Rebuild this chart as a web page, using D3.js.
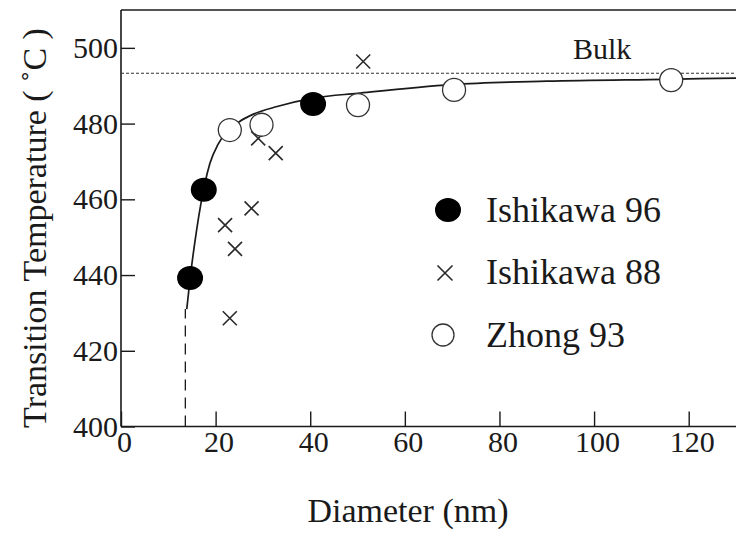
<!DOCTYPE html>
<html>
<head>
<meta charset="utf-8">
<script src="https://cdn.jsdelivr.net/npm/d3@7"></script>
<style>
  html, body { margin: 0; padding: 0; background: #fff; }
  svg { display: block; }
</style>
</head>
<body>
<svg id="chart" width="736" height="536"></svg>
<script>
// Ferroelectric transition temperature vs particle diameter
const ishikawa96D = [14.6, 17.5, 40.6];
const ishikawa96T = [439.2, 462.5, 485.2];

const ishikawa88D = [22.0, 24.1, 23.0, 27.6, 29.0, 32.7, 51.2];
const ishikawa88T = [453.2, 446.9, 428.6, 457.6, 476.1, 472.2, 496.4];

const zhong93D = [23.0, 29.7, 50.1, 70.4, 116.3];
const zhong93T = [478.3, 479.7, 484.9, 488.9, 491.5];

// fitted size-effect curve, sampled
const fitD = [13.9, 14.6, 16.0, 17.7, 18.8, 20.5, 22.5, 25.0, 28.0, 33.0, 41.0, 50.0, 70.0, 90.0, 115.0, 130.0];
const fitT = [431.0, 439.0, 452.0, 464.0, 469.5, 474.5, 478.0, 480.5, 482.5, 484.5, 486.8, 488.0, 490.3, 491.2, 491.7, 492.0];

// critical diameter marker
const criticalD = 13.6;
const criticalT = 431.0;

const bulkT = 493.3;
const bulkLabel = "Bulk";

const xTicks = [0, 20, 40, 60, 80, 100, 120];
const yTicks = [400, 420, 440, 460, 480, 500];

const xTitle = "Diameter (nm)";
const yTitle = "Transition Temperature ( ˚C )";

const legendNames = ["Ishikawa 96", "Ishikawa 88", "Zhong 93"];

const FONT = "'Liberation Serif', 'Times New Roman', Times, serif";
const ink = "#1a1a1a";

const svg = d3.select("#chart");

const x = d3.scaleLinear().domain([0, 130]).range([121, 736]);
const y = d3.scaleLinear().domain([400, 510]).range([426.5, 10]);

// frame: left axis, bottom axis, top border
svg.append("line").attr("x1", x(0)).attr("x2", x(0)).attr("y1", y(510)).attr("y2", y(400))
  .attr("stroke", ink).attr("stroke-width", 1.6);
svg.append("line").attr("x1", x(0)).attr("x2", x(130)).attr("y1", y(400)).attr("y2", y(400))
  .attr("stroke", ink).attr("stroke-width", 1.6);
svg.append("line").attr("x1", x(0)).attr("x2", x(130)).attr("y1", y(510)).attr("y2", y(510))
  .attr("stroke", ink).attr("stroke-width", 1.6);

// axes with inward ticks
const xAxis = d3.axisBottom(x).tickValues(xTicks).tickFormat(d3.format("d"))
  .tickSizeInner(-15).tickSizeOuter(0).tickPadding(4);
const gx = svg.append("g").attr("transform", `translate(0,${y(400)})`).call(xAxis)
  .attr("font-family", FONT);
gx.select(".domain").remove();
gx.selectAll(".tick line").attr("stroke", ink).attr("stroke-width", 1.4);
gx.selectAll(".tick text").attr("font-size", 30).attr("dx", 3).attr("dy", "0.72em")
  .attr("font-family", FONT).attr("fill", ink);

const yAxis = d3.axisLeft(y).tickValues(yTicks).tickFormat(d3.format("d"))
  .tickSizeInner(-14).tickSizeOuter(0).tickPadding(3);
const gy = svg.append("g").attr("transform", `translate(${x(0)},0)`).call(yAxis)
  .attr("font-family", FONT);
gy.select(".domain").remove();
gy.selectAll(".tick line").attr("stroke", ink).attr("stroke-width", 1.4);
gy.selectAll(".tick text").attr("font-size", 30).attr("font-family", FONT).attr("fill", ink);

// axis titles
svg.append("text").attr("x", 408).attr("y", 522).attr("text-anchor", "middle")
  .attr("font-family", FONT).attr("fill", ink).attr("font-size", 34).text(xTitle);
svg.append("text").attr("transform", `translate(46,${228}) rotate(-90)`)
  .attr("text-anchor", "middle").attr("font-family", FONT).attr("fill", ink)
  .attr("font-size", 34).text(yTitle);

// bulk reference line
svg.append("line").attr("x1", x(0)).attr("x2", x(130)).attr("y1", y(bulkT)).attr("y2", y(bulkT))
  .attr("stroke", "#333").attr("stroke-width", 1.2).attr("stroke-dasharray", "3,2");
svg.append("text").attr("x", 573).attr("y", 59).attr("font-family", FONT).attr("fill", ink)
  .attr("font-size", 30).text(bulkLabel);

// critical-size dashed drop line
svg.append("line").attr("x1", x(criticalD)).attr("x2", x(criticalD))
  .attr("y1", y(400)).attr("y2", y(criticalT))
  .attr("stroke", ink).attr("stroke-width", 1.3).attr("stroke-dasharray", "11,7");

// fitted curve
const fitPts = fitD.map((d, i) => [d, fitT[i]]);
svg.append("path").datum(fitPts)
  .attr("d", d3.line().x(d => x(d[0])).y(d => y(d[1])).curve(d3.curveMonotoneX))
  .attr("fill", "none").attr("stroke", ink).attr("stroke-width", 1.7);

// Ishikawa 88: crosses
const crossPath = (cx, cy, h) => `M${cx - h},${cy - h}L${cx + h},${cy + h}M${cx - h},${cy + h}L${cx + h},${cy - h}`;
svg.append("g").selectAll("path").data(ishikawa88D.map((d, i) => [d, ishikawa88T[i]]))
  .join("path")
  .attr("d", d => crossPath(x(d[0]), y(d[1]), 7))
  .attr("stroke", "#2a2a2a").attr("stroke-width", 1.6).attr("fill", "none");

// Zhong 93: open circles
svg.append("g").selectAll("circle").data(zhong93D.map((d, i) => [d, zhong93T[i]]))
  .join("circle")
  .attr("cx", d => x(d[0])).attr("cy", d => y(d[1])).attr("r", 11.5)
  .attr("fill", "#fff").attr("stroke", "#333").attr("stroke-width", 1.3);

// Ishikawa 96: filled circles
svg.append("g").selectAll("ellipse").data(ishikawa96D.map((d, i) => [d, ishikawa96T[i]]))
  .join("ellipse")
  .attr("cx", d => x(d[0])).attr("cy", d => y(d[1])).attr("rx", 13).attr("ry", 12)
  .attr("fill", "#000");

// legend
const legend = svg.append("g");
legend.append("ellipse").attr("cx", 448).attr("cy", 210).attr("rx", 13).attr("ry", 12).attr("fill", "#000");
legend.append("path").attr("d", crossPath(445, 273, 7.5))
  .attr("stroke", "#2a2a2a").attr("stroke-width", 1.6).attr("fill", "none");
legend.append("circle").attr("cx", 443).attr("cy", 335).attr("r", 11)
  .attr("fill", "#fff").attr("stroke", "#333").attr("stroke-width", 1.3);
const legendY = [222, 284, 347];
legend.selectAll("text").data(legendNames).join("text")
  .attr("x", 486).attr("y", (d, i) => legendY[i]).attr("font-family", FONT).attr("fill", ink)
  .attr("font-size", 36).text(d => d);
</script>
</body>
</html>
